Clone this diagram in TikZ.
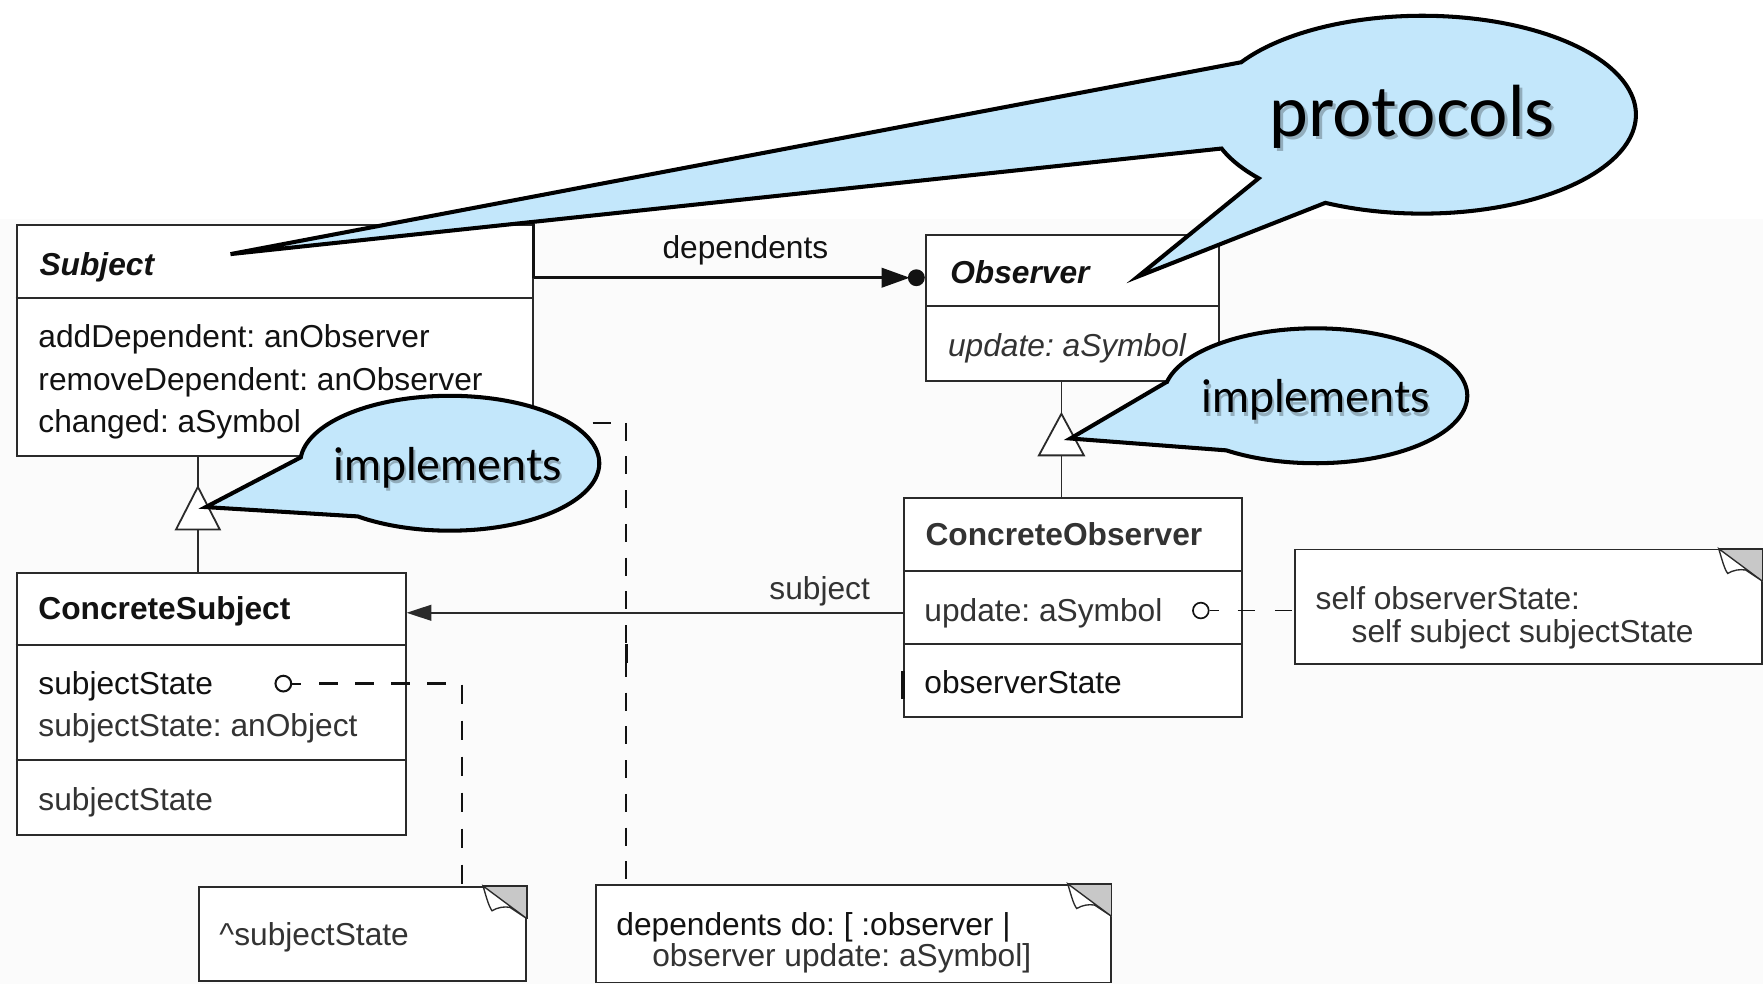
\documentclass[tikz,border=0pt]{standalone}
\usepackage{fontspec}
\setmainfont{Liberation Sans}
\newfontfamily\callfont{Lato}
\usetikzlibrary{arrows.meta}
\definecolor{bubblefill}{HTML}{C3E7FB}
\definecolor{ink}{HTML}{121212}
\definecolor{lineclr}{HTML}{2A2A2A}
\definecolor{softink}{HTML}{333333}
\definecolor{foldgray}{HTML}{C8C8C8}
\definecolor{bgscan}{HTML}{FBFBFB}
\frenchspacing
\begin{document}
\begin{tikzpicture}[x=1pt,y=-1pt,
  umlbox/.style={draw=lineclr,line width=1.6pt,fill=white,rectangle,inner sep=0pt,anchor=north west},
  lbl/.style={anchor=base west,inner sep=0pt,text=ink,font=\fontsize{28.2}{30}\selectfont},
  lblb/.style={lbl,font=\fontsize{28.2}{30}\selectfont\bfseries},
  lblbi/.style={lbl,font=\fontsize{28.2}{30}\selectfont\bfseries\itshape},
  lbli/.style={lbl,font=\fontsize{28.2}{30}\selectfont\itshape},
  sepline/.style={draw=lineclr,line width=1.6pt},
  dsh/.style={draw=ink,line width=1.8pt,dash pattern=on 16pt off 14pt},
  bubble/.style={fill=bubblefill,draw=black,line width=3.6pt},
  calltxt/.style={inner sep=0pt,anchor=base,text=black,font=\callfont\fontsize{40}{44}\selectfont},
  callshadow/.style={calltxt,text=black,opacity=0.25},
  socket/.style={circle,draw=ink,line width=1.8pt,fill=white,minimum size=14pt,inner sep=0pt},
  notefold/.pic={
    \fill[foldgray] (-39,0) -- (0,0) -- (0,29) -- cycle;
    \draw[draw=lineclr,line width=1.2pt,fill=white] (-39,0) .. controls (-36,10) and (-34,18) .. (-31,22)
        .. controls (-26,19) and (-20,18) .. (-15,19) -- (0,29) -- cycle;
    \draw[draw=lineclr,line width=1.6pt] (-39,0) -- (0,0) -- (0,29);
  }
]
\useasboundingbox (0,0) rectangle (1568,875);
\fill[white] (0,0) rectangle (1568,875);
\fill[bgscan] (0,195) rectangle (1568,875);

% ---------- class boxes ----------
\node[umlbox,minimum width=459pt,minimum height=206pt] (subj) at (14,199) {};
\node[umlbox,minimum width=260pt,minimum height=130pt] (obs) at (823,208) {};
\node[umlbox,minimum width=301pt,minimum height=195pt] (cobs) at (803,442) {};
\node[umlbox,minimum width=346pt,minimum height=233pt] (csubj) at (14,509) {};

\draw[sepline] ([yshift=-66pt]subj.north west) -- ([yshift=-66pt]subj.north east);
\draw[sepline] ([yshift=-64pt]obs.north west) -- ([yshift=-64pt]obs.north east);
\draw[sepline] ([yshift=-66pt]cobs.north west) -- ([yshift=-66pt]cobs.north east);
\draw[sepline] ([yshift=-131pt]cobs.north west) -- ([yshift=-131pt]cobs.north east);
\draw[sepline] ([yshift=-65pt]csubj.north west) -- ([yshift=-65pt]csubj.north east);
\draw[sepline] ([yshift=-167pt]csubj.north west) -- ([yshift=-167pt]csubj.north east);

% ---------- notes ----------
\node[umlbox,minimum width=291pt,minimum height=84pt] (note1) at (176,788) {};
\node[umlbox,minimum width=458pt,minimum height=87pt] (note2) at (529,786) {};
\node[umlbox,minimum width=415pt,minimum height=102pt] (note3) at (1151,488) {};
\pic at (note1.north east) {notefold};
\pic at (note2.north east) {notefold};
\pic at (note3.north east) {notefold};

% ---------- texts ----------
\node[lblbi] (t-subj) at (35,245) {Subject};
\node[lbl] (t-op1) at (34,309) {addDependent: anObserver};
\node[lbl] (t-op2) at (34,347) {removeDependent: anObserver};
\node[lbl] (t-op3) at (34,385) {changed: aSymbol};
\node[lbl,anchor=base] (t-dep) at (663,230) {dependents};
\node[lblbi] (t-obs) at (845,252) {Observer};
\node[lbli,text=softink] (t-upd) at (843,317) {update: aSymbol};
\node[lblb,text=softink] (t-cobs) at (823,485) {ConcreteObserver};
\node[lbl,text=softink] (t-upd2) at (822,553) {update: aSymbol};
\node[lbl] (t-ostate) at (822,617) {observerState};
\node[lbl,anchor=base,text=softink] (t-subjlbl) at (729,533) {subject};
\node[lblb] (t-csubj) at (34,551) {ConcreteSubject};
\node[lbl] (t-ss1) at (34,618) {subjectState};
\node[lbl,text=softink] (t-ss2) at (34,655) {subjectState: anObject};
\node[lbl,text=softink] (t-ss3) at (34,721) {subjectState};
\node[lbl,text=softink] (t-n1) at (195,841) {\textasciicircum subjectState};
\node[lbl] (t-n2a) at (548,832) {dependents do: [ :observer |};
\node[lbl,text=softink] (t-n2b) at (580,860) {observer update: aSymbol]};
\node[lbl,text=softink] (t-n3a) at (1170,542) {self observerState:};
\node[lbl,text=softink] (t-n3b) at (1202,571) {self subject subjectState};

% ---------- inheritance ----------
\coordinate (tri1) at (176,433);
\draw[sepline] (subj.south -| tri1) -- (tri1);
\draw[sepline,fill=white] (tri1) -- ++(-19.5,38) -- ++(39,0) -- cycle;
\draw[sepline] ([yshift=-38pt]tri1) -- (csubj.north -| tri1);

\coordinate (tri2) at (944,368);
\draw[sepline] (obs.south -| tri2) -- (tri2);
\draw[sepline,fill=white] (tri2) -- ++(-20,37) -- ++(40,0) -- cycle;
\draw[sepline] ([yshift=-37pt]tri2) -- (cobs.north -| tri2);

% ---------- dependents association ----------
\coordinate (depy) at (0,247);
\coordinate (dep-end) at (obs.west |- depy);
\draw[line width=2.2pt,draw=ink] (subj.east |- depy) -- ([xshift=-30pt]dep-end);
\fill[ink] ([xshift=-8pt]dep-end) circle (7.5pt);
\fill[ink] ([xshift=-14pt]dep-end) -- ++(-25,-9) -- ++(0,18) -- cycle;
\draw[line width=2.6pt,draw=ink] (subj.north east) -- (subj.east |- depy);

% ---------- subject association ----------
\coordinate (sy) at (0,545);
\draw[line width=1.5pt,draw=lineclr,-{Triangle[length=22pt,width=14pt]}] (cobs.west |- sy) -- (csubj.east |- sy);

% ---------- dashed note links ----------
\node[socket] (sock1) at (252,608) {};
\draw[line width=1.8pt,draw=ink] (sock1.east) -- ++(8,0);
\coordinate (k1) at (411,608);
\draw[dsh,line width=2pt,dash pattern=on 17pt off 15pt] ([xshift=24pt]sock1.east) -- (k1) -- (note1.north -| k1);

\coordinate (chg) at (527,376);
\coordinate (k2) at (557,376);
\draw[dsh,line width=1.6pt] (chg) -- (k2) -- (note2.north -| k2);
\draw[line width=3pt,draw=ink] (557,573) -- (557,590);

\node[socket,line width=1.5pt] (sock2) at (1068,543) {};
\draw[line width=1.5pt,draw=ink] (sock2.east) -- ++(8,0);
\draw[draw=ink,line width=1.5pt,dash pattern=on 15pt off 18pt] ([xshift=25pt]sock2.east) -- (note3.west |- sock2);

\draw[line width=3pt,draw=ink] (cobs.west |- 0,597) -- (cobs.west |- 0,622);

% ---------- callouts ----------
\coordinate (ptip1) at (205,226);
\coordinate (ptip2) at (1012,246);
\filldraw[bubble] ({1265+190*cos(212)},{102+88*sin(212)}) -- (ptip1)
  -- ({1265+190*cos(160)},{102+88*sin(160)})
  -- plot[domain=160:140,samples=12] ({1265+190*cos(\x)},{102+88*sin(\x)})
  -- (ptip2)
  -- plot[domain=117:-148,samples=120] ({1265+190*cos(\x)},{102+88*sin(\x)})
  -- cycle;

\coordinate (itip1) at (183,451);
\filldraw[bubble] ({400+133*cos(185)},{412+60*sin(185)}) -- (itip1)
  -- plot[domain=128:-175,samples=120] ({400+133*cos(\x)},{412+60*sin(\x)})
  -- cycle;

\coordinate (itip2) at (952,390);
\filldraw[bubble] ({1170+135*cos(192)},{352+60*sin(192)}) -- (itip2)
  -- plot[domain=126:-168,samples=120] ({1170+135*cos(\x)},{352+60*sin(\x)})
  -- cycle;

\node[callshadow,font=\callfont\fontsize{62}{66}\selectfont] (c-prot-sh) at (1258.5,124) {protocols};
\node[calltxt,font=\callfont\fontsize{62}{66}\selectfont] (c-prot) at (1256,121) {protocols};
\node[callshadow] (c-impl1-sh) at (400,430) {implements};
\node[calltxt] (c-impl1) at (398,427) {implements};
\node[callshadow] (c-impl2-sh) at (1172,370) {implements};
\node[calltxt] (c-impl2) at (1170,367) {implements};
\end{tikzpicture}
\end{document}
